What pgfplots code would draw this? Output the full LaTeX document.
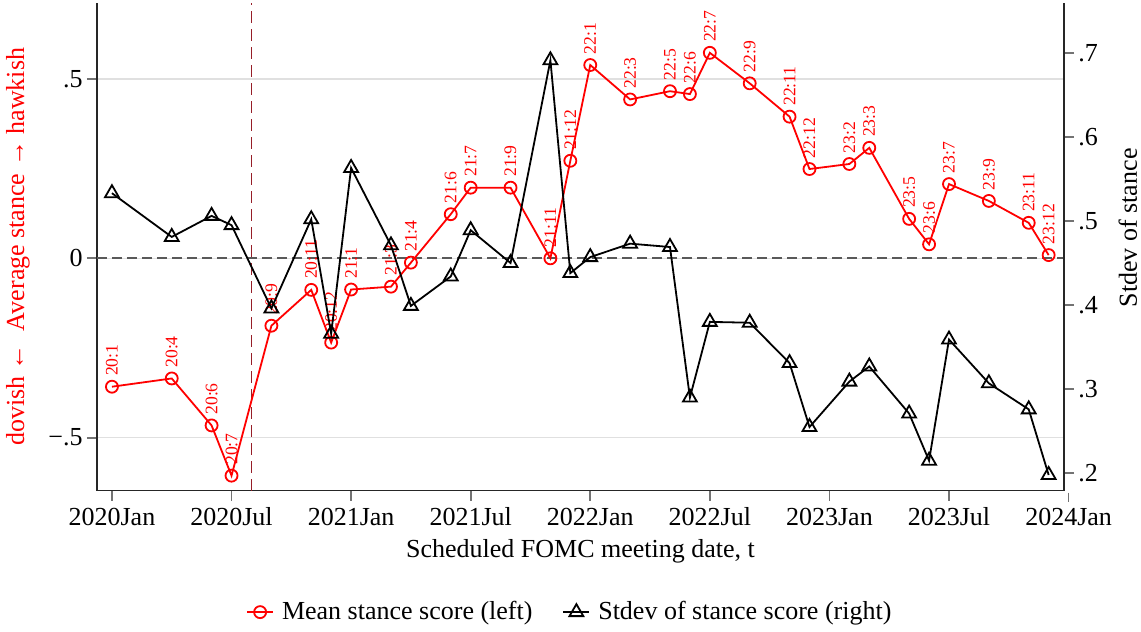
\documentclass[border=0pt]{standalone}
\usepackage{pgfplots}
\pgfplotsset{compat=1.18}
\usepackage{pgfplotstable}
\usepackage{fontspec}
\setmainfont{Liberation Serif}

\pgfplotstableread{
m y label
0 -0.358 20:1
3 -0.335 20:4
5 -0.466 20:6
6 -0.606 20:7
8 -0.188 20:9
10 -0.088 20:11
11 -0.235 20:12
12 -0.087 21:1
14 -0.079 21:3
15 -0.012 21:4
17 0.123 21:6
18 0.197 21:7
20 0.197 21:9
22 0.000 21:11
23 0.272 21:12
24 0.539 22:1
26 0.443 22:3
28 0.466 22:5
29 0.458 22:6
30 0.573 22:7
32 0.488 22:9
34 0.395 22:11
35 0.249 22:12
37 0.263 23:2
38 0.308 23:3
40 0.110 23:5
41 0.039 23:6
42 0.207 23:7
44 0.160 23:9
46 0.099 23:11
47 0.009 23:12
}\meantab

\pgfplotstableread{
m s
0 0.533
3 0.481
5 0.506
6 0.495
8 0.396
10 0.502
11 0.366
12 0.563
14 0.471
15 0.399
17 0.434
18 0.489
20 0.450
22 0.691
23 0.438
24 0.457
26 0.473
28 0.469
29 0.290
30 0.380
32 0.379
34 0.331
35 0.255
37 0.309
38 0.327
40 0.271
41 0.215
42 0.359
44 0.307
46 0.276
47 0.198
}\sdtab

\definecolor{vline}{RGB}{150,30,40}
\newcommand{\mainfont}{\fontsize{13}{15}\selectfont}

\pgfplotsset{
  common/.style={
    scale only axis, width=483.5pt, height=243.85pt,
    xmin=-0.75, xmax=47.77,
    tick align=outside, major tick length=5pt,
    every tick/.style={black!55, line width=0.9pt},
    axis line style={black!85, line width=0.7pt},
    tick label style={font=\mainfont},
    yticklabel style={inner sep=2pt},
    label style={font=\mainfont},
    clip=false,
  }
}

\begin{document}
\begin{tikzpicture}
\useasboundingbox (-48.5pt,-70.65pt) rectangle (522pt,245.35pt);
\begin{axis}[common,
  ymin=-0.648, ymax=0.712,
  axis x line*=bottom, axis y line*=left,
  xtick={0,6,12,18,24,30,36,42},
  xticklabels={2020Jan,2020Jul,2021Jan,2021Jul,2022Jan,2022Jul,2023Jan,2023Jul},
  ytick={-0.5,0,0.5}, yticklabels={−.5,0,.5},
  ymajorgrids, grid style={black!12, line width=0.6pt},
  xlabel={Scheduled FOMC meeting date, t},
  xlabel style={at={(axis description cs:0.5,-0.124)}, anchor=center},
  ylabel={dovish ←\ \ Average stance → hawkish},
  ylabel style={at={(axis description cs:-0.0817,0.5)}, anchor=center, rotate=0, text=red},
]
\draw[black!65, line width=0.9pt, dash pattern=on 5pt off 2.5pt] (axis cs:-0.75,0) -- (axis cs:47.77,0);
\draw[vline, line width=0.5pt, dash pattern=on 6pt off 3pt] (axis cs:7,-0.648) -- (axis cs:7,0.712);
\addplot[red, line width=0.9pt, mark=o, mark size=3pt, mark options={solid},
  point meta=explicit symbolic,
  nodes near coords,
  nodes near coords align={anchor=west},
  every node near coord/.append style={yshift=5pt, rotate=90, anchor=west, inner sep=0pt, font=\fontsize{8.8}{9.5}\selectfont, text=red},
] table[x=m, y=y, meta=label] {\meantab};
\draw[black!55, line width=0.9pt] ([yshift=-1pt]axis cs:48,-0.648) -- ([yshift=-5.5pt]axis cs:48,-0.648)
  node[below, black, font=\mainfont, inner sep=3pt] {2024Jan};
\end{axis}
\begin{axis}[common,
  ymin=0.1793, ymax=0.7591,
  axis x line=none, axis y line*=right,
  ytick={0.2,0.3,0.4,0.5,0.6,0.7}, yticklabels={.2,.3,.4,.5,.6,.7},
  ylabel={Stdev of stance},
  ylabel style={at={(axis description cs:1.066,0.539)}, anchor=center, rotate=0},
  legend style={at={(0.49,-0.249)}, anchor=center, draw=none, fill=none,
    legend columns=2, font=\mainfont,
    /tikz/every odd column/.append style={column sep=2pt},
    /tikz/every even column/.append style={column sep=13pt}},
  legend image code/.code={\draw[mark repeat=2, mark phase=2] plot coordinates {(0pt,0pt) (6.5pt,0pt) (13pt,0pt)};},
]
\addlegendimage{red, line width=0.9pt, mark=o, mark size=3pt, mark options={solid}}
\addplot[black, line width=0.9pt, mark=triangle, mark size=4pt, mark options={solid}]
  table[x=m, y=s] {\sdtab};
\legend{Mean stance score (left), Stdev of stance score (right)}
\end{axis}
\end{tikzpicture}
\end{document}
